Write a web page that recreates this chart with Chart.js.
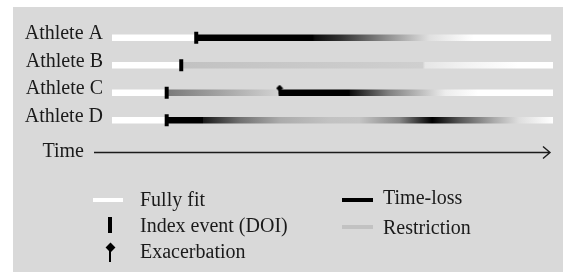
<!DOCTYPE html>
<html>
<head>
<meta charset="utf-8">
<script src="https://cdn.jsdelivr.net/npm/chart.js@4"></script>
<style>
  body { margin: 0; background: #fff; }
  #wrap { position: relative; width: 563px; height: 272px; overflow: hidden; }
  #panel { position: absolute; left: 13px; top: 7px; right: 0; bottom: 0; background: #d9d9d9; }
  #chart { position: absolute; left: 0; top: 0; }
  .lg { position: absolute; font-family: "Liberation Serif", serif; font-size: 20px; line-height: 20px; color: #1a1a1a; white-space: nowrap; }
  .sym { position: absolute; }
</style>
</head>
<body>
<div id="wrap">
  <div id="panel"></div>
  <canvas id="chart" width="563" height="272"></canvas>

  <!-- legend -->
  <div class="sym" style="left:93px;top:198px;width:30px;height:4px;background:#fff"></div>
  <div class="lg" style="left:140px;top:189px">Fully fit</div>
  <div class="sym" style="left:108px;top:217px;width:4px;height:16px;background:#000"></div>
  <div class="lg" style="left:140px;top:215px">Index event (DOI)</div>
  <div class="sym" style="left:106.5px;top:244px;width:7px;height:7px;background:#000;transform:rotate(45deg)"></div>
  <div class="sym" style="left:109px;top:250px;width:2px;height:12px;background:#000"></div>
  <div class="lg" style="left:140px;top:241px">Exacerbation</div>
  <div class="sym" style="left:342px;top:198px;width:31px;height:4px;background:#000"></div>
  <div class="lg" style="left:383px;top:187px">Time-loss</div>
  <div class="sym" style="left:342px;top:225px;width:31px;height:4px;background:#c2c2c2"></div>
  <div class="lg" style="left:383px;top:217px">Restriction</div>
</div>
<script>
// athletes and time course (time in arbitrary units 0-100)
const athletes = ['Athlete A', 'Athlete B', 'Athlete C', 'Athlete D'];
const indexEvent = [19.1, 15.7, 12.4, 12.4];
const exacerbation = [null, null, 38, null];
const endTime = [99.5, 100, 100, 100];

// severity along the time line: 0 = fully fit, ~0.2 = restriction, 1 = time-loss
const timesA = [0, 18.8, 19.2, 45.5, 46, 52, 62, 72, 82, 99.5];
const levelA = [0, 0, 1, 1, 0.95, 0.8, 0.45, 0.12, 0, 0];
const timesB = [0, 15.4, 15.8, 70.4, 71, 80, 92, 100];
const levelB = [0, 0, 0.24, 0.19, 0.1, 0.05, 0, 0];
const timesC = [0, 12.2, 12.6, 37.6, 38, 53.8, 54, 62.8, 75.6, 83, 100];
const levelC = [0, 0, 0.52, 0.18, 1, 1, 0.95, 0.5, 0.07, 0, 0];
const timesD = [0, 12.2, 12.6, 20.6, 20.7, 29, 38, 49.3, 56.1, 65.2, 72.6, 78.7, 86.7, 92.3, 98, 100];
const levelD = [0, 0, 1, 1, 0.9, 0.56, 0.33, 0.24, 0.23, 0.47, 1, 0.67, 0.33, 0.13, 0.03, 0];

const timeline = [
  [timesA, levelA],
  [timesB, levelB],
  [timesC, levelC],
  [timesD, levelD]
];

function grey(level) {
  const v = Math.round(255 * (1 - level));
  return `rgb(${v},${v},${v})`;
}

// 渐变填充，按时间轴位置加色标
function barGradient(context) {
  const chart = context.chart;
  if (!chart.chartArea) return '#fff';
  const i = context.dataIndex;
  const x = chart.scales.x;
  const x0 = x.getPixelForValue(0);
  const x1 = x.getPixelForValue(endTime[i]);
  const g = chart.ctx.createLinearGradient(x0, 0, x1, 0);
  const [t, lv] = timeline[i];
  t.forEach((tt, k) => {
    g.addColorStop(Math.min(1, Math.max(0, tt / endTime[i])), grey(lv[k]));
  });
  return g;
}

// exacerbation marker: diamond on a short stem
const exaImg = document.createElement('canvas');
exaImg.width = 8;
exaImg.height = 16;
(function() {
  const c = exaImg.getContext('2d');
  c.fillStyle = '#000';
  c.beginPath();
  c.moveTo(4, 0);
  c.lineTo(7.5, 3.5);
  c.lineTo(4, 7);
  c.lineTo(0.5, 3.5);
  c.closePath();
  c.fill();
  c.fillRect(3.2, 6, 1.6, 3.5);
})();

const timeAxis = {
  id: 'timeAxis',
  afterDraw(chart) {
    const {ctx, chartArea, scales: {x}} = chart;
    const y0 = chartArea.bottom + 18.5;
    const xs = chartArea.left - 18;
    const xe = x.getPixelForValue(100) - 3;
    ctx.save();
    ctx.strokeStyle = '#1a1a1a';
    ctx.lineWidth = 1.4;
    ctx.beginPath();
    ctx.moveTo(xs, y0);
    ctx.lineTo(xe, y0);
    ctx.moveTo(xe - 7, y0 - 6);
    ctx.lineTo(xe, y0);
    ctx.lineTo(xe - 7, y0 + 6);
    ctx.stroke();
    ctx.fillStyle = '#1a1a1a';
    ctx.font = '20px "Liberation Serif", serif';
    ctx.textAlign = 'right';
    ctx.textBaseline = 'alphabetic';
    ctx.fillText('Time', chartArea.left - 28, y0 + 4.5);
    ctx.restore();
  }
};

new Chart(document.getElementById('chart'), {
  type: 'bar',
  data: {
    labels: athletes,
    datasets: [
      {
        type: 'scatter',
        label: 'Index event (DOI)',
        data: athletes.map((a, i) => ({x: indexEvent[i], y: a})),
        pointStyle: 'line',
        rotation: 90,
        radius: 6,
        borderWidth: 4,
        borderColor: '#000',
        backgroundColor: '#000',
        order: 1
      },
      {
        type: 'scatter',
        label: 'Exacerbation',
        data: athletes.map((a, i) => exacerbation[i] == null ? null : {x: exacerbation[i], y: a}).filter(p => p),
        pointStyle: exaImg,
        order: 0
      },
      {
        label: 'Status',
        data: athletes.map((a, i) => [0, endTime[i]]),
        backgroundColor: barGradient,
        borderWidth: 0,
        borderSkipped: false,
        barThickness: 6,
        order: 2
      }
    ]
  },
  options: {
    indexAxis: 'y',
    responsive: false,
    animation: false,
    layout: { padding: { top: 24, bottom: 138, left: 0, right: 8 } },
    plugins: {
      legend: { display: false },
      tooltip: { enabled: false }
    },
    scales: {
      x: { type: 'linear', min: 0, max: 100, display: false },
      y: {
        type: 'category',
        grid: { display: false, drawTicks: false },
        border: { display: false },
        ticks: {
          padding: 9,
          labelOffset: -4,
          color: '#1a1a1a',
          font: { family: '"Liberation Serif", serif', size: 20 }
        },
        afterFit(scale) { scale.width = 112; }
      }
    }
  },
  plugins: [timeAxis]
});
</script>
</body>
</html>
